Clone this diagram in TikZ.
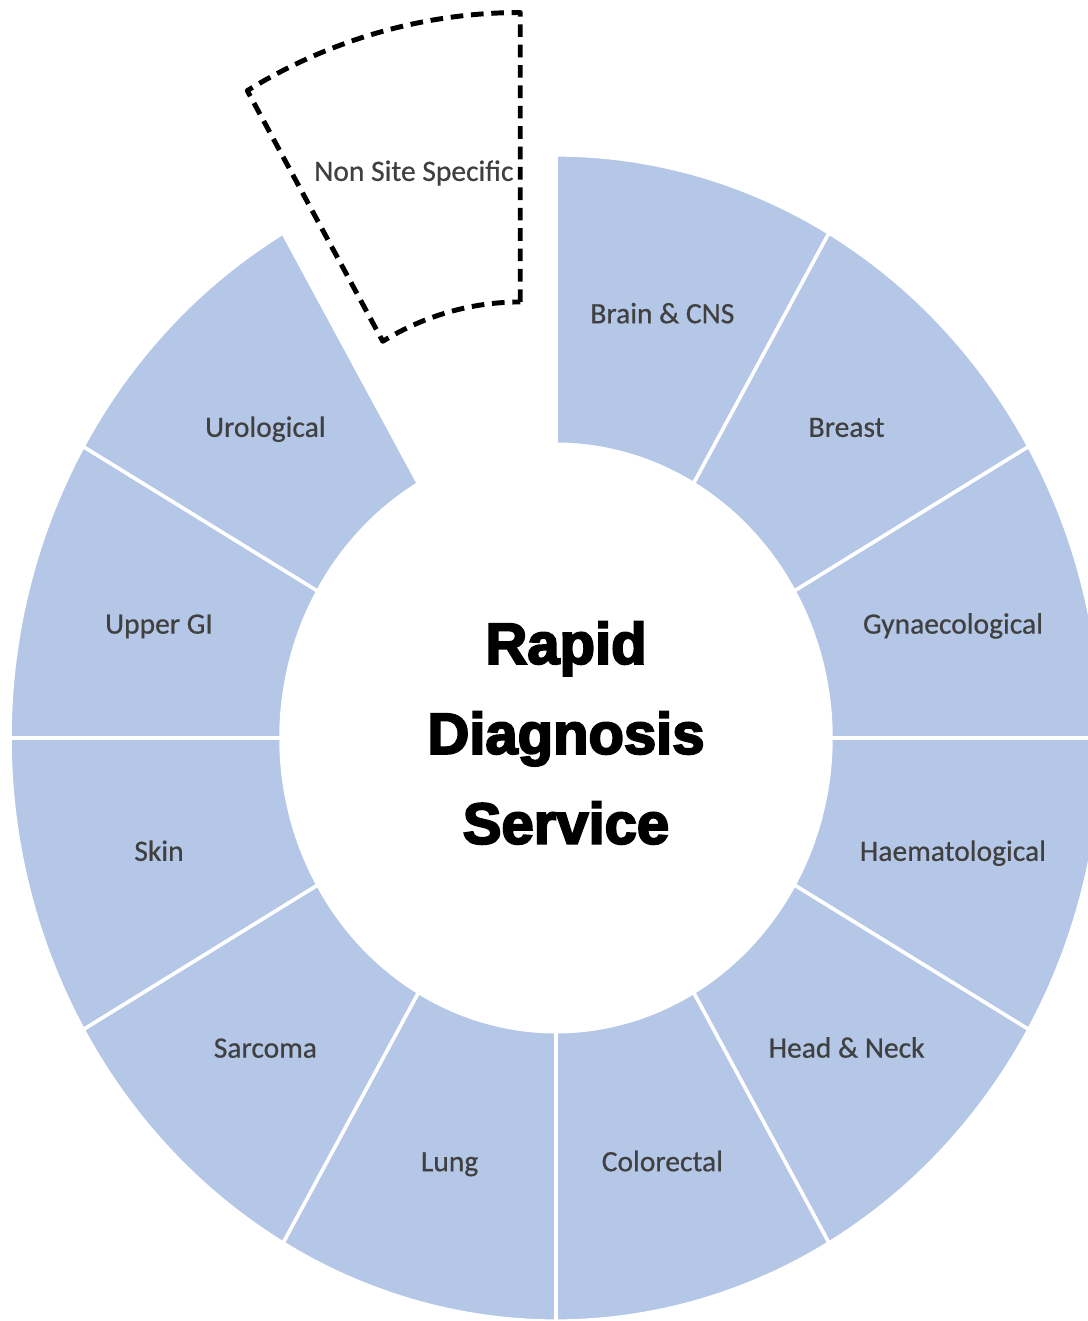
\documentclass[tikz,border=0pt]{standalone}
\usepackage{fontspec}
\setmainfont{Carlito}
\newfontfamily\labelfont[FakeBold=0.6]{Carlito}
\newfontfamily\titlefont[FakeBold=3.5]{Liberation Sans Bold}
\definecolor{segblue}{HTML}{B4C7E7}
\definecolor{labelgray}{HTML}{404040}
\tikzset{
  segment/.style={fill=segblue, draw=white, line width=1pt},
  seglabel/.style={text=labelgray, font=\labelfont\fontsize{8.4}{10}\selectfont, text height=1.4ex, text depth=0.3ex},
  extra/.style={draw=black, line width=1.4pt, dash pattern=on 3.6pt off 2.2pt, line join=round}
}
\begin{document}
\begin{tikzpicture}
\useasboundingbox (-5.56,-5.83) rectangle (5.32,7.38);
\clip (-5.56,-5.83) rectangle (5.32,7.38);

\begin{scope}[yscale=1.068]
% ring of sites, clockwise from the top
\foreach \name [count=\i] in {{Brain \& CNS},Breast,Gynaecological,Haematological,{Head \& Neck},Colorectal,Lung,Sarcoma,Skin,{Upper GI},Urological}{
	\pgfmathsetmacro{\a}{90-30*\i}
	\pgfmathsetmacro{\b}{\a+30}
	\pgfmathsetmacro{\m}{\a+15}
	\draw[segment] (\a:2.75) -- (\a:5.46) arc[start angle=\a, end angle=\b, radius=5.46]
		-- (\b:2.75) arc[start angle=\b, end angle=\a, radius=2.75] -- cycle;
	\node[seglabel] (seg\i) at (\m:4.11) {\name};
}

% pulled out segment
\begin{scope}[shift={(105:1.38)}]
\draw[extra] (90:2.75) -- (90:5.46) arc[start angle=90, end angle=120, radius=5.46]
	-- (120:2.75) arc[start angle=120, end angle=90, radius=2.75] -- cycle;
\node[seglabel] (nss) at (105:4.11) {Non Site Specific};
\end{scope}
\end{scope}

\node[font=\titlefont\fontsize{16.5}{25.6}\selectfont, align=center] (title) at (0.1,0.05) {Rapid\\Diagnosis\\Service};
\end{tikzpicture}
\end{document}
